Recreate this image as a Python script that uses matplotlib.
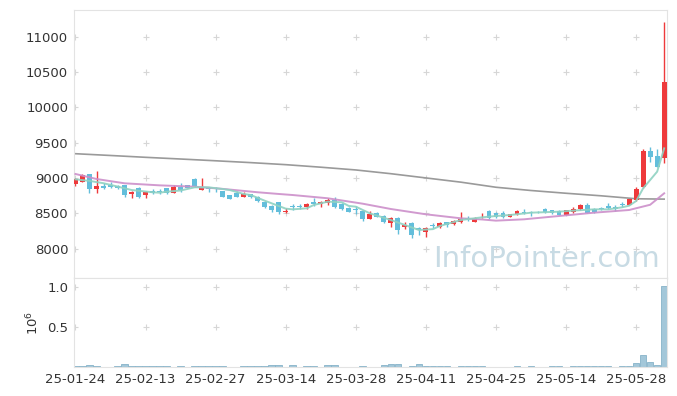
import numpy as np
import matplotlib.pyplot as plt

# OHLC, one per trading day (index 0 = 25-01-24)
opens = [8910, 8945, 9055, 8845, 8885, 8905, 8885, 8900, 8772, 8862,
         8753, 8820, 8810, 8853, 8792, 8865, 8900, 8985, 8830, 8853,
         8850, 8820, 8758, 8792, 8735, 8768, 8735, 8664, 8607, 8655,
         8522, 8602, 8607, 8593, 8664, 8631, 8650, 8688, 8631, 8575,
         8560, 8537, 8420, 8508, 8466, 8357, 8438, 8300, 8367, 8287,
         8239, 8334, 8301, 8371, 8348, 8371, 8432, 8381, 8460, 8532,
         8499, 8508, 8452, 8485, 8522, 8518, 8522, 8555, 8541, 8537,
         8475, 8522, 8560, 8617, 8555, 8574, 8607, 8584, 8631, 8621,
         8690, 8867, 9380, 9310, 9280]
highs = [8995, 9050, 9060, 9095, 8925, 8937, 8900, 8905, 8808, 8865,
         8820, 8843, 8838, 8858, 8895, 8925, 8905, 9000, 9000, 8876,
         8870, 8822, 8760, 8810, 8800, 8770, 8740, 8668, 8612, 8660,
         8570, 8630, 8630, 8650, 8710, 8674, 8711, 8725, 8640, 8593,
         8602, 8540, 8537, 8515, 8470, 8443, 8445, 8371, 8370, 8310,
         8310, 8357, 8372, 8381, 8405, 8513, 8461, 8445, 8499, 8540,
         8522, 8532, 8495, 8540, 8555, 8537, 8530, 8570, 8545, 8540,
         8545, 8584, 8631, 8640, 8574, 8584, 8650, 8617, 8655, 8705,
         8876, 9405, 9443, 9405, 11215]
lows = [8890, 8940, 8790, 8790, 8840, 8853, 8838, 8735, 8720, 8712,
        8720, 8772, 8772, 8775, 8785, 8805, 8855, 8867, 8825, 8800,
        8800, 8730, 8700, 8730, 8730, 8720, 8655, 8580, 8522, 8485,
        8499, 8546, 8565, 8560, 8608, 8593, 8617, 8580, 8550, 8513,
        8485, 8395, 8415, 8445, 8365, 8310, 8200, 8277, 8145, 8192,
        8160, 8286, 8296, 8300, 8334, 8365, 8395, 8375, 8428, 8425,
        8428, 8428, 8440, 8480, 8490, 8466, 8505, 8499, 8495, 8475,
        8470, 8499, 8546, 8499, 8499, 8546, 8555, 8536, 8593, 8615,
        8680, 8860, 9230, 9150, 9210]
closes = [8985, 9045, 8845, 8890, 8862, 8877, 8862, 8755, 8805, 8735,
          8796, 8792, 8795, 8782, 8876, 8830, 8862, 8886, 8867, 8840,
          8840, 8735, 8707, 8735, 8768, 8725, 8680, 8595, 8546, 8522,
          8536, 8585, 8593, 8626, 8631, 8659, 8688, 8585, 8556, 8522,
          8548, 8420, 8485, 8452, 8372, 8428, 8263, 8338, 8192, 8263,
          8291, 8320, 8367, 8335, 8395, 8419, 8424, 8438, 8468, 8428,
          8452, 8452, 8489, 8532, 8500, 8510, 8515, 8513, 8499, 8480,
          8541, 8560, 8617, 8508, 8518, 8555, 8579, 8555, 8617, 8702,
          8843, 9380, 9300, 9160, 10365]
volumes = [17000, 17000, 30000, 15000, 2000, 2000, 15000, 42000, 15000, 15000,
           15000, 15000, 15000, 15000, 2000, 15000, 2000, 15000, 15000, 15000,
           15000, 15000, 2000, 2000, 15000, 15000, 15000, 15000, 30000, 30000,
           2000, 30000, 2000, 15000, 15000, 2000, 30000, 30000, 2000, 2000,
           2000, 15000, 2000, 2000, 28000, 40000, 40000, 2000, 15000, 40000,
           15000, 15000, 15000, 15000, 2000, 15000, 15000, 15000, 15000, 2000,
           2000, 2000, 2000, 15000, 2000, 15000, 2000, 2000, 15000, 15000,
           2000, 15000, 15000, 15000, 15000, 15000, 15000, 2000, 15000, 15000,
           55000, 154000, 67000, 29000, 1016000]

# moving average lines
ma_short_x = [0, 2, 4, 6, 8, 11, 12, 13, 15, 17, 19, 21, 22, 24, 25, 27, 30, 31, 33, 34,
              36, 38, 39, 40, 42, 45, 47, 49, 51, 52, 53, 55, 58, 60, 62, 65, 69, 71, 74,
              76, 78, 79, 80, 81, 82, 83, 84]
ma_short = [8980, 8958, 8925, 8878, 8829, 8797, 8791, 8805, 8822, 8867, 8867, 8843, 8829,
            8773, 8758, 8678, 8565, 8555, 8570, 8617, 8664, 8655, 8603, 8593, 8499, 8404,
            8334, 8263, 8275, 8320, 8348, 8404, 8442, 8461, 8475, 8508, 8522, 8537, 8555,
            8555, 8584, 8607, 8673, 8853, 8971, 9089, 9419]
ma_mid_x = [0, 3, 7, 12, 17, 21, 26, 29, 31, 36, 41, 45, 50, 55, 58, 60, 64, 69, 74, 79, 82, 84]
ma_mid = [9056, 8985, 8924, 8895, 8876, 8845, 8797, 8773, 8758, 8712, 8635, 8560, 8485,
          8428, 8412, 8395, 8414, 8461, 8508, 8546, 8620, 8782]
ma_long_x = [0, 5, 10, 15, 20, 25, 30, 35, 40, 45, 50, 55, 60, 65, 70, 75, 80, 84]
ma_long = [9343, 9318, 9292, 9268, 9243, 9217, 9188, 9152, 9113, 9060, 9000, 8940, 8868,
           8822, 8783, 8747, 8705, 8700]

tick_pos = [0, 10, 20, 30, 40, 50, 60, 70, 80]
tick_labels = ['25-01-24', '25-02-13', '25-02-27', '25-03-14', '25-03-28',
               '25-04-11', '25-04-25', '25-05-14', '25-05-28']
price_ticks = [8000, 8500, 9000, 9500, 10000, 10500, 11000]
vol_ticks = [0.5, 1.0]

up_color = '#ee3a3c'
down_color = '#63bedb'
spine_color = '#e3e3e3'
cross_color = '#d6d6d6'

fig = plt.figure(figsize=(6.77, 3.96), dpi=100)
ax = fig.add_axes([0.1089, 0.298, 0.8768, 0.6767])
axv = fig.add_axes([0.1089, 0.0725, 0.8768, 0.2255], sharex=ax)

x = np.arange(len(closes))
o = np.array(opens)
c = np.array(closes)
h = np.array(highs)
l = np.array(lows)
colors = [up_color if cc >= oo else down_color for oo, cc in zip(o, c)]

# grid drawn as little crosses
gx, gy = np.meshgrid(tick_pos, price_ticks)
ax.plot(gx.ravel(), gy.ravel(), '+', color=cross_color, ms=5, mew=0.8, zorder=0)
gx, gy = np.meshgrid(tick_pos, vol_ticks)
axv.plot(gx.ravel(), gy.ravel(), '+', color=cross_color, ms=5, mew=0.8, zorder=0)

ax.plot(ma_long_x, ma_long, color='#9a9a9a', lw=1.2, zorder=1)
ax.vlines(x, l, h, colors=colors, lw=1.0, zorder=2)
ax.bar(x, np.abs(c - o), bottom=np.minimum(o, c), width=0.7, color=colors, zorder=3)
ax.plot(ma_mid_x, ma_mid, color='#cc8fca', lw=1.4, alpha=0.9, zorder=4)
ax.plot(ma_short_x, ma_short, color='#8fd2c2', lw=1.4, alpha=0.9, zorder=4)

axv.bar(x, np.array(volumes) / 1e6, width=0.95, color='#a3c7d9', edgecolor='#86b3c9',
        lw=0.6, zorder=2)

ax.text(0.988, 0.02, 'InfoPointer.com', transform=ax.transAxes, ha='right', va='bottom',
        fontsize=21, color='#c8dbe4', zorder=0)

ax.set_xlim(-0.25, 84.45)
ax.set_ylim(7583, 11378)
axv.set_ylim(0, 1.116)

ax.set_yticks(price_ticks)
ax.set_yticklabels([str(t) for t in price_ticks])
axv.set_yticks(vol_ticks)
axv.set_yticklabels(['0.5', '1.0'])
axv.set_xticks(tick_pos)
axv.set_xticklabels(tick_labels)
axv.set_ylabel('$10^6$', fontsize=9.5, color='#333333', labelpad=4)

for a in (ax, axv):
    a.tick_params(length=0, labelsize=9.5, labelcolor='#333333', pad=4)
    for s in a.spines.values():
        s.set_color(spine_color)
        s.set_linewidth(0.8)
ax.tick_params(labelbottom=False)

plt.savefig('out.png', dpi=100)
plt.close()
